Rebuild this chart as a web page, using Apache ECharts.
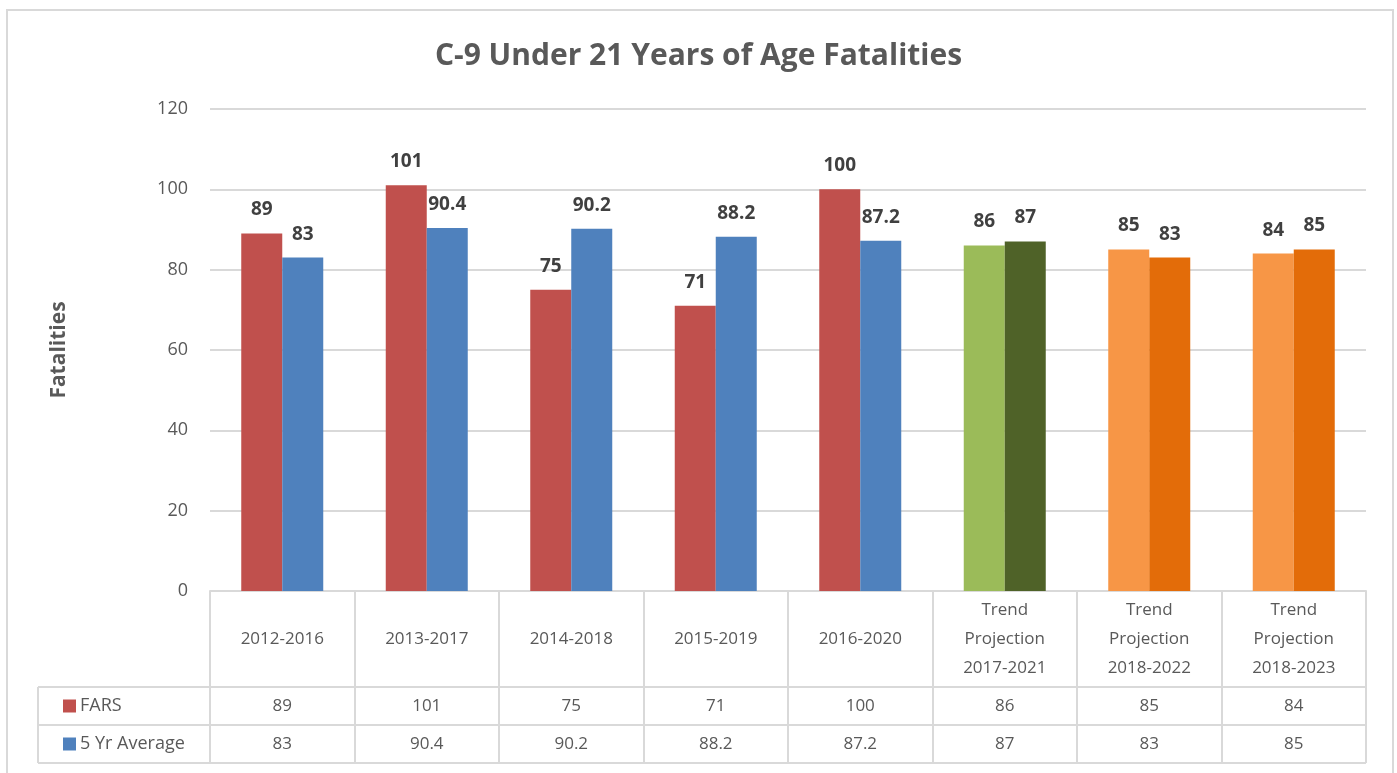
<!DOCTYPE html>
<html><head><meta charset="utf-8">
<script src="https://cdn.jsdelivr.net/npm/echarts@6/dist/echarts.min.js"></script>
<style>html,body{margin:0;padding:0;background:#fff}#c{width:1397px;height:773px}</style>
</head><body><div id="c"></div>
<script>
const categories = ['2012-2016','2013-2017','2014-2018','2015-2019','2016-2020','Trend\nProjection\n2017-2021','Trend\nProjection\n2018-2022','Trend\nProjection\n2018-2023'];
const farsValues = [89,101,75,71,100,86,85,84];
const avgValues = [83,90.4,90.2,88.2,87.2,87,83,85];
const farsColors = ['#C0504D','#C0504D','#C0504D','#C0504D','#C0504D','#9BBB59','#F79646','#F79646'];
const avgColors = ['#4F81BD','#4F81BD','#4F81BD','#4F81BD','#4F81BD','#4F6228','#E36C09','#E36C09'];
const yTicks = {min:0,max:120,interval:20};

const FONT = 'Open Sans';
const GL = 210, GR = 1366, GT = 109, GB = 591;
const headerH = 96, rowH = 38, legendLeft = 38;
const gridCol = '#d9d9d9';

const chart = echarts.init(document.getElementById('c'));
const lbl = {show:true, position:'top', distance:14, color:'#404040', fontFamily:FONT, fontWeight:'bold', fontSize:19};
const tableAxis = (vals, off) => ({
  type:'category', data: vals.map(String), position:'bottom', offset: off, gridIndex:0,
  axisLine:{show:false}, axisTick:{show:false},
  axisLabel:{interval:0, margin: rowH/2, verticalAlign:'middle', color:'#595959', fontFamily:FONT, fontSize:17}
});
chart.setOption({
  animation:false,
  textStyle:{fontFamily:FONT},
  title:{text:'C-9 Under 21 Years of Age Fatalities', left:'center', top:36,
    textStyle:{fontFamily:FONT, fontWeight:'bold', fontSize:30, color:'#595959'}},
  legend:{orient:'vertical', left:legendLeft+20, top:GB+headerH+2, itemWidth:13, itemHeight:13, itemGap:14,
    icon:'rect', selectedMode:false,
    textStyle:{color:'#595959', fontFamily:FONT, fontSize:18, lineHeight:24, padding:[0,0,0,-1]}},
  grid:{left:GL, right:1397-GR, top:GT, bottom:773-GB, containLabel:false},
  xAxis:[
    {type:'category', data:categories, position:'bottom',
     axisLine:{show:true, lineStyle:{color:gridCol, width:2}},
     axisTick:{show:true, length:headerH+2*rowH, lineStyle:{color:gridCol, width:2}},
     axisLabel:{interval:0, margin:headerH/2, verticalAlign:'middle', lineHeight:29, color:'#595959', fontFamily:FONT, fontSize:17}},
    tableAxis(farsValues, headerH),
    tableAxis(avgValues, headerH+rowH)
  ],
  yAxis:{type:'value', min:yTicks.min, max:yTicks.max, interval:yTicks.interval,
    name:'Fatalities', nameLocation:'middle', nameRotate:90, nameGap:140,
    nameTextStyle:{fontFamily:FONT, fontWeight:'bold', fontSize:21, color:'#595959'},
    axisLine:{show:false}, axisTick:{show:false},
    axisLabel:{margin:22, color:'#595959', fontFamily:FONT, fontSize:18},
    splitLine:{lineStyle:{color:gridCol, width:2}}},
  series:[
    {name:'FARS', type:'bar', xAxisIndex:0, barWidth:41, barGap:'0%', itemStyle:{color:'#C0504D'},
     data: farsValues.map((v,i)=>({value:v, itemStyle:{color:farsColors[i]}})), label:lbl},
    {name:'5 Yr Average', type:'bar', xAxisIndex:0, barWidth:41, barGap:'0%', itemStyle:{color:'#4F81BD'},
     data: avgValues.map((v,i)=>({value:v, itemStyle:{color:avgColors[i]}})), label:lbl}
  ],
  graphic:[
    {type:'rect', shape:{x:7,y:10,width:1386,height:780}, style:{fill:'none', stroke:gridCol, lineWidth:2}, silent:true},
    ...[GB+headerH, GB+headerH+rowH, GB+headerH+2*rowH].map(y=>({type:'line', shape:{x1:legendLeft,y1:y,x2:GR,y2:y}, style:{stroke:gridCol, lineWidth:2}, silent:true})),
    {type:'line', shape:{x1:legendLeft,y1:GB+headerH,x2:legendLeft,y2:GB+headerH+2*rowH}, style:{stroke:gridCol, lineWidth:2}, silent:true}
  ]
});
</script></body></html>
